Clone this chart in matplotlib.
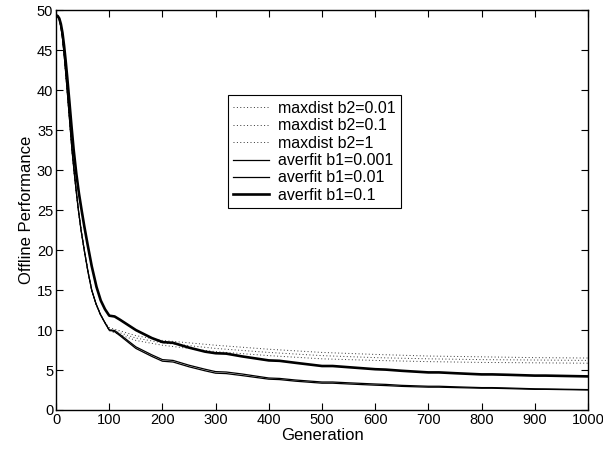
import numpy as np
import matplotlib.pyplot as plt

plt.rcParams['font.family'] = ['Liberation Sans', 'DejaVu Sans']

gen_early = [0, 3, 6, 9, 12, 15, 18, 21, 25, 30, 34, 38, 42, 47, 53, 60, 67, 75, 83, 92, 100]
low_early = [49.4, 49.3, 48.9, 48.0, 46.6, 44.6, 42.3, 39.9, 36.6, 32.5, 29.8, 27.3,
             25.0, 22.5, 20.0, 17.3, 15.0, 13.3, 12.0, 10.9, 10.0]

gen_early_thick = [0, 3, 6, 9, 12, 15, 18, 21, 25, 29, 33, 38, 43, 48, 53, 59, 67, 76, 84, 92, 100]
thick_early = [49.4, 49.3, 49.0, 48.3, 47.2, 45.6, 43.7, 41.6, 38.6, 35.5, 32.6, 29.6,
               27.1, 25.0, 23.0, 20.8, 18.0, 15.4, 13.7, 12.6, 11.8]

gen_late = [110, 120, 150, 180, 200, 220, 250, 280, 300, 320, 350, 400, 420, 450,
            500, 520, 550, 600, 620, 650, 700, 720, 750, 800, 820, 850, 900, 920, 1000]
averfit_001 = [9.8, 9.3, 7.7, 6.7, 6.1, 6.0, 5.4, 4.9, 4.6, 4.55, 4.3, 3.85, 3.8, 3.6,
               3.35, 3.35, 3.25, 3.1, 3.05, 2.95, 2.85, 2.85, 2.8, 2.72, 2.72, 2.67, 2.58, 2.58, 2.5]
averfit_01 = [9.95, 9.45, 7.9, 6.9, 6.3, 6.2, 5.6, 5.1, 4.8, 4.75, 4.5, 4.0, 3.95, 3.75,
              3.5, 3.5, 3.4, 3.25, 3.2, 3.08, 2.97, 2.97, 2.9, 2.8, 2.8, 2.75, 2.65, 2.63, 2.55]
averfit_1 = [11.7, 11.3, 10.0, 9.0, 8.5, 8.4, 7.8, 7.3, 7.1, 7.05, 6.7, 6.2, 6.15, 5.9,
             5.5, 5.5, 5.35, 5.1, 5.05, 4.9, 4.7, 4.7, 4.6, 4.45, 4.45, 4.4, 4.3, 4.3, 4.2]

gen_md = [100, 150, 200, 300, 400, 500, 600, 700, 800, 900, 1000]
maxdist_001 = [10.3, 9.3, 8.7, 8.1, 7.6, 7.2, 6.95, 6.75, 6.65, 6.55, 6.5]
maxdist_01 = [10.1, 9.0, 8.4, 7.7, 7.2, 6.8, 6.55, 6.4, 6.3, 6.25, 6.2]
maxdist_1 = [9.9, 8.7, 8.1, 7.3, 6.8, 6.4, 6.2, 6.05, 5.95, 5.9, 5.85]

fig = plt.figure(figsize=(6.03, 4.53), dpi=100)
ax = fig.add_axes([0.093, 0.095, 0.882, 0.882])

dot = (0, (1, 2.5))
for vals, lab in [(maxdist_001, 'maxdist b2=0.01'),
                  (maxdist_01, 'maxdist b2=0.1'),
                  (maxdist_1, 'maxdist b2=1')]:
    x = gen_early[:-1] + gen_md
    y = low_early[:-1] + vals
    ax.plot(x, y, color='0.2', linestyle=dot, linewidth=0.7, label=lab)

ax.plot(gen_early + gen_late, low_early + averfit_001, color='k', linewidth=0.9,
        label='averfit b1=0.001')
ax.plot(gen_early + gen_late, low_early + averfit_01, color='k', linewidth=0.9,
        label='averfit b1=0.01')
ax.plot(gen_early_thick + gen_late, thick_early + averfit_1, color='k', linewidth=1.9,
        label='averfit b1=0.1')

ax.set_xlim(0, 1000)
ax.set_ylim(0, 50)
ax.set_xticks(np.arange(0, 1001, 100))
ax.set_yticks(np.arange(0, 51, 5))
ax.tick_params(direction='in', top=True, right=True, length=5, labelsize=10.5, pad=2)
for s in ax.spines.values():
    s.set_linewidth(1.0)

ax.set_xlabel('Generation', fontsize=12, labelpad=1)
ax.set_ylabel('Offline Performance', fontsize=12, labelpad=2)

leg = ax.legend(loc='upper left', bbox_to_anchor=(0.323, 0.7875), fontsize=11.5,
                fancybox=False, edgecolor='k', framealpha=1, handlelength=2.2,
                labelspacing=0.15, borderpad=0.35, handletextpad=0.6, borderaxespad=0)
leg.get_frame().set_linewidth(0.8)

plt.savefig('out.png', dpi=100)
